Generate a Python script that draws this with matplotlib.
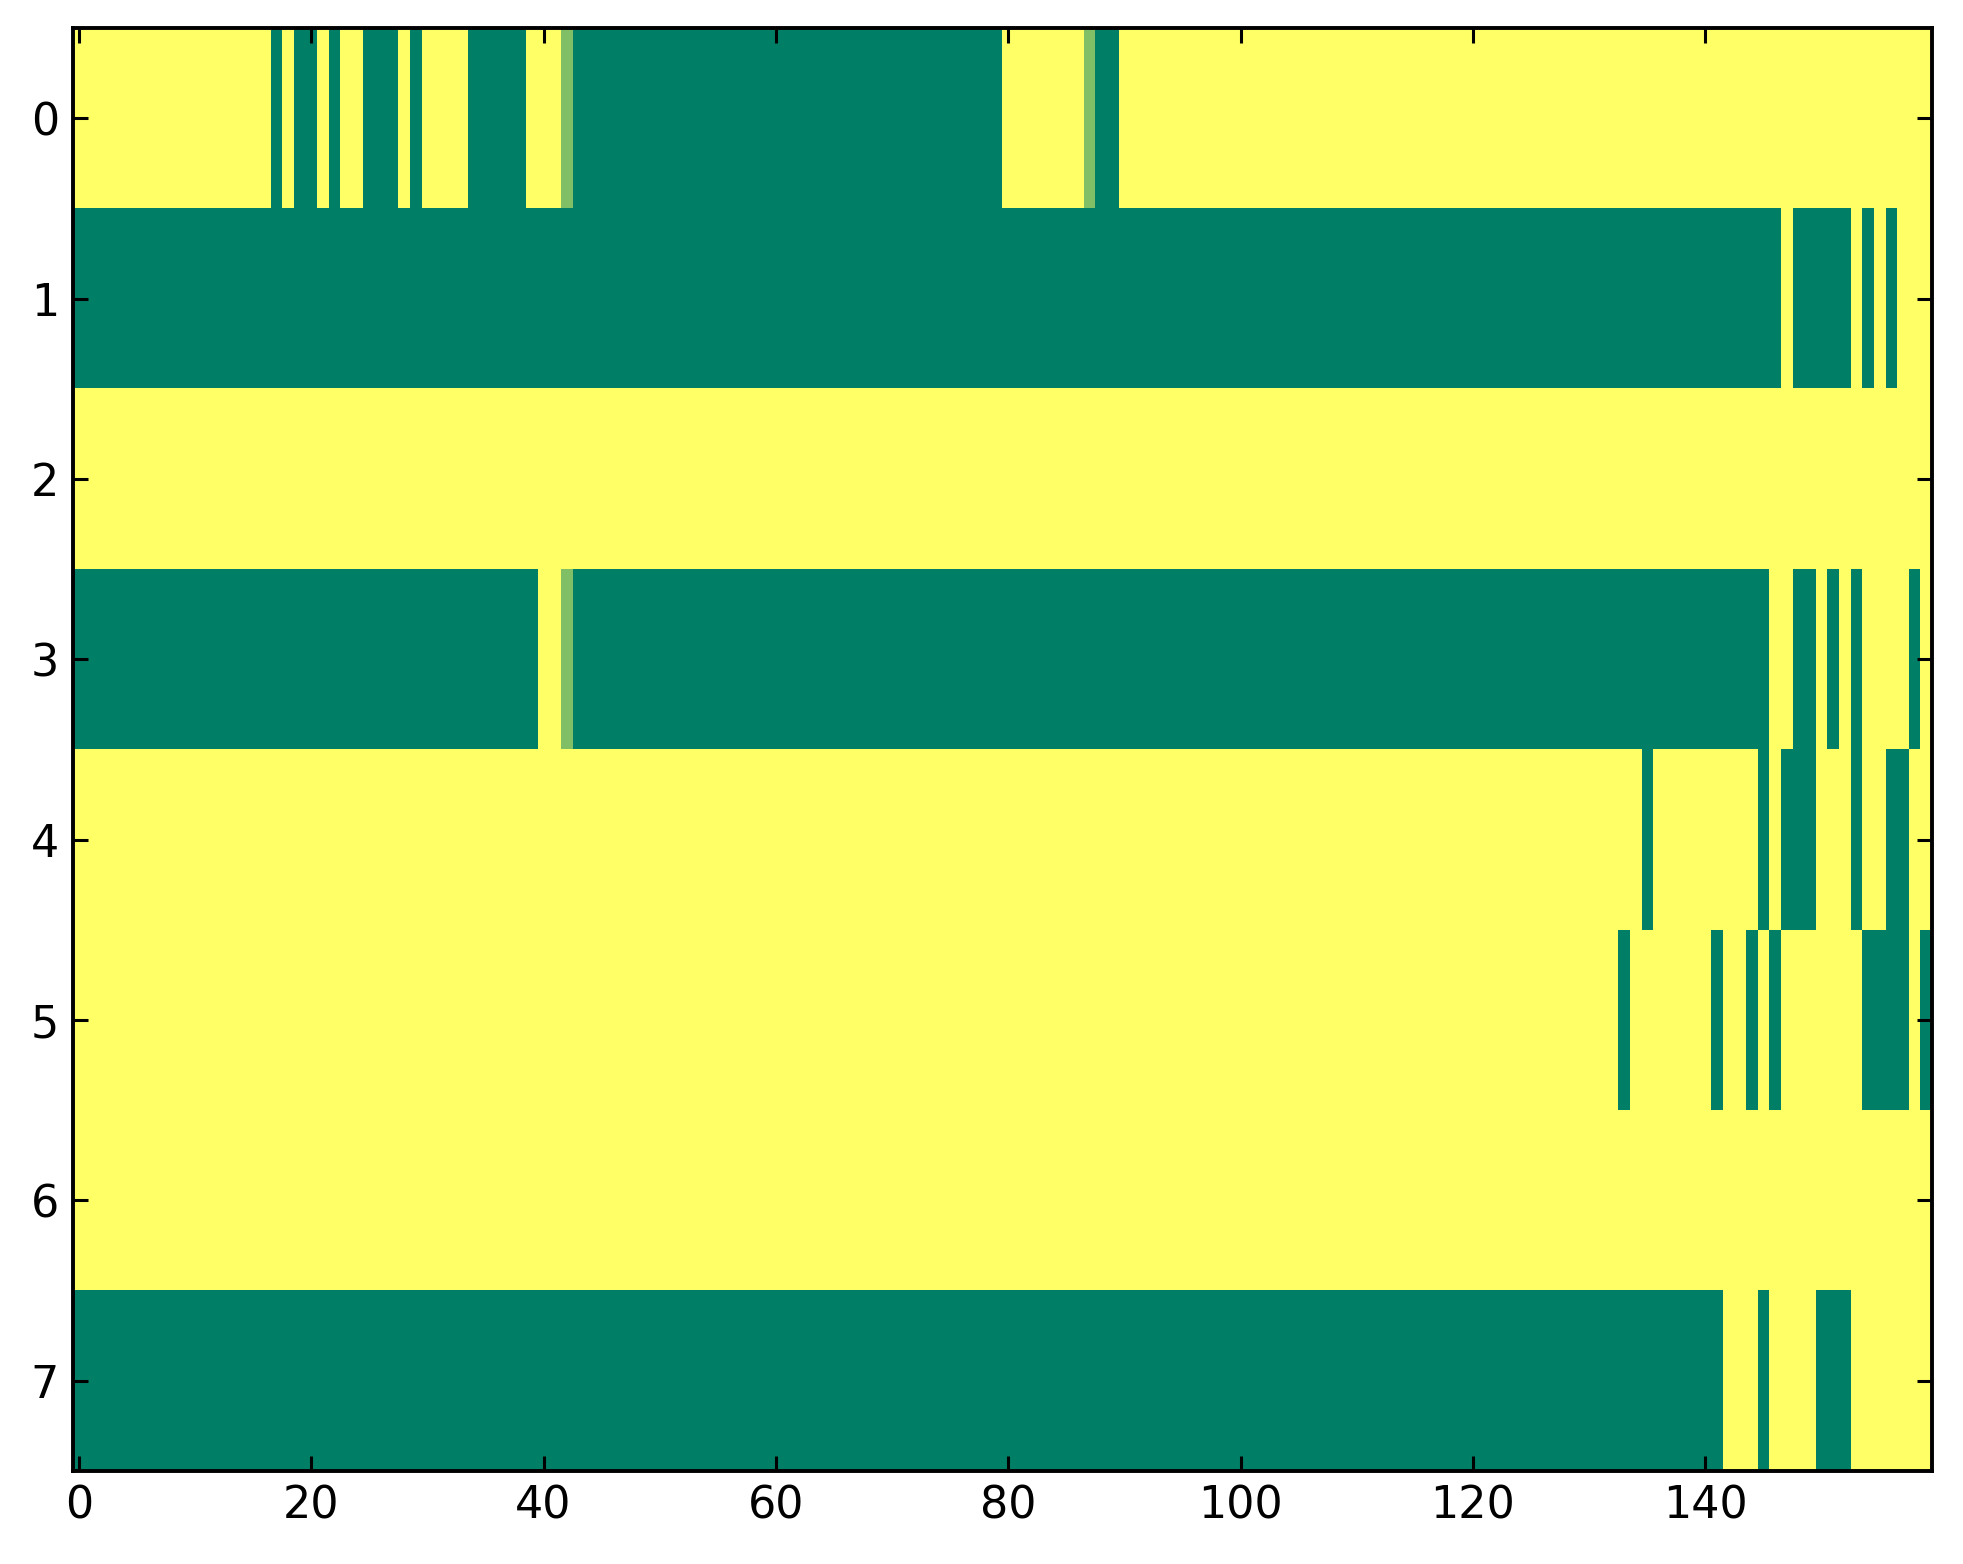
import numpy as np
import matplotlib
matplotlib.use("Agg")
import matplotlib.pyplot as plt

# each row of the matrix as runs of (value, count); 0 = dark green, 1 = yellow, 0.5 = light green
row0 = [(1, 17), (0, 1), (1, 1), (0, 2), (1, 1), (0, 1), (1, 2), (0, 3), (1, 1), (0, 1),
        (1, 4), (0, 5), (1, 3), (0.5, 1), (0, 37), (1, 7), (0.5, 1), (0, 2), (1, 70)]
row1 = [(0, 147), (1, 1), (0, 5), (1, 1), (0, 1), (1, 1), (0, 1), (1, 3)]
row2 = [(1, 160)]
row3 = [(0, 40), (1, 2), (0.5, 1), (0, 103), (1, 2), (0, 2), (1, 1), (0, 1), (1, 1),
        (0, 1), (1, 4), (0, 1), (1, 1)]
row4 = [(1, 135), (0, 1), (1, 9), (0, 1), (1, 1), (0, 3), (1, 3), (0, 1), (1, 2), (0, 2), (1, 2)]
row5 = [(1, 133), (0, 1), (1, 7), (0, 1), (1, 2), (0, 1), (1, 1), (0, 1), (1, 7), (0, 4),
        (1, 1), (0, 1)]
row6 = [(1, 160)]
row7 = [(0, 142), (1, 3), (0, 1), (1, 4), (0, 3), (1, 7)]

rows = [row0, row1, row2, row3, row4, row5, row6, row7]


def expand(runs):
    vals = [v for v, n in runs]
    counts = [n for v, n in runs]
    return np.repeat(vals, counts)


matrix = np.array([expand(r) for r in rows])
print(matrix.shape)

fig = plt.figure(figsize=(1963 / 200, 1564 / 200), dpi=200)
ax = fig.add_axes([73 / 1963, 1 - 1471 / 1564, (1932 - 73) / 1963, (1471 - 28) / 1564])
ax.imshow(matrix, cmap="summer", vmin=0, vmax=1, aspect="auto", interpolation="nearest")

ax.set_xticks(np.arange(0, 160, 20))
ax.set_yticks(np.arange(0, 8))
ax.tick_params(direction="in", top=True, right=True, length=5.5, width=1.1,
               labelsize=16, pad=5)
for s in ax.spines.values():
    s.set_linewidth(1.4)

fig.savefig("out.png", dpi=200)
